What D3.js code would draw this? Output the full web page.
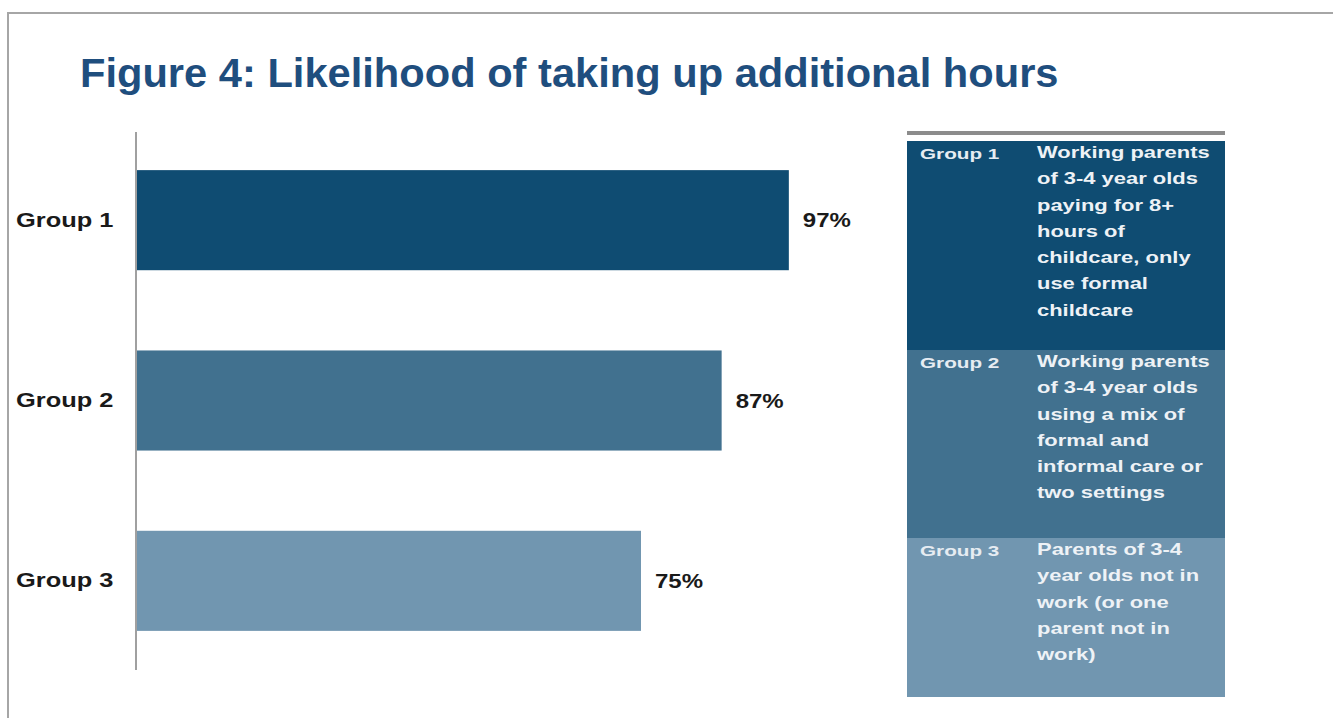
<!DOCTYPE html>
<html lang="en">
<head>
    <meta charset="UTF-8">
    <title>Figure 4</title>
    <script src="https://cdn.jsdelivr.net/npm/d3@7"></script>
    <style>
        body { margin: 0; background: #fff; }
        svg { display: block; font-family: "Liberation Sans", Arial, sans-serif; }
    </style>
</head>
<body>
<div id="chart"></div>
<script>
    var width = 1333;
    var height = 718;

    // data
    var groups = ["Group 1", "Group 2", "Group 3"];
    var values = [97, 87, 75];
    var colors = ["#0f4c72", "#41718f", "#7196b0"];
    var descriptions = [
        ["Working parents", "of 3-4 year olds", "paying for 8+", "hours of", "childcare, only", "use formal", "childcare"],
        ["Working parents", "of 3-4 year olds", "using a mix of", "formal and", "informal care or", "two settings"],
        ["Parents of 3-4", "year olds not in", "work (or one", "parent not in", "work)"]
    ];

    var svg = d3.select("#chart")
            .append("svg")
            .attr("width", width)
            .attr("height", height);

    // outer frame
    svg.append("path")
            .attr("d", "M8,720 V13 H1340")
            .attr("fill", "none")
            .attr("stroke", "#a6a6a6")
            .attr("stroke-width", 2);

    // the source picture is a bit stretched sideways, so text gets a scaleX
    svg.append("text")
            .attr("transform", "translate(80,87) scale(1.016,1)")
            .attr("font-size", 41)
            .attr("font-weight", "bold")
            .attr("fill", "#1f4e7e")
            .text("Figure 4: Likelihood of taking up additional hours");

    // scales
    var x = d3.scaleLinear()
            .domain([0, 100])
            .range([137, 809]);

    var y = d3.scaleBand()
            .domain(groups)
            .range([130, 671])
            .paddingInner(0.445)
            .paddingOuter(0.2225);

    svg.selectAll("rect.bar")
            .data(values)
            .enter()
            .append("rect")
            .attr("class", "bar")
            .attr("x", x(0))
            .attr("y", function (d, i) { return y(groups[i]); })
            .attr("width", function (d) { return x(d) - x(0); })
            .attr("height", y.bandwidth())
            .attr("fill", function (d, i) { return colors[i]; });

    // value labels
    svg.selectAll("text.val")
            .data(values)
            .enter()
            .append("text")
            .attr("class", "val")
            .attr("transform", function (d, i) {
                return "translate(" + (x(d) + 14) + "," + (y(groups[i]) + y.bandwidth() / 2 + 7) + ") scale(1.2,1)";
            })
            .attr("font-size", 20)
            .attr("font-weight", "bold")
            .attr("fill", "#1a1a1a")
            .text(function (d) { return d + "%"; });

    // category axis
    var axis = d3.axisLeft(y).tickSize(0).tickPadding(20);
    var gAxis = svg.append("g")
            .attr("transform", "translate(136,0)")
            .call(axis);
    gAxis.select(".domain")
            .attr("d", "M0,132 V670")
            .attr("stroke", "#a0a0a0")
            .attr("stroke-width", 2);
    gAxis.selectAll("text")
            .attr("x", 0)
            .attr("transform", "translate(-120,0) scale(1.27,1)")
            .attr("text-anchor", "start")
            .attr("font-size", 20)
            .attr("font-weight", "bold")
            .attr("font-family", "'Liberation Sans', Arial, sans-serif")
            .attr("fill", "#1a1a1a");

    // legend table
    var rowTops = [141, 350, 538, 697];
    var lx = 907, lw = 318;

    svg.append("rect")
            .attr("x", lx).attr("y", 131)
            .attr("width", lw).attr("height", 4)
            .attr("fill", "#8c8c8c");

    var rows = svg.selectAll("g.row")
            .data(groups)
            .enter()
            .append("g")
            .attr("class", "row");

    rows.append("rect")
            .attr("x", lx)
            .attr("y", function (d, i) { return rowTops[i]; })
            .attr("width", lw)
            .attr("height", function (d, i) { return rowTops[i + 1] - rowTops[i]; })
            .attr("fill", function (d, i) { return colors[i]; });

    rows.append("text")
            .attr("transform", function (d, i) { return "translate(920," + (rowTops[i] + 18) + ") scale(1.38,1)"; })
            .attr("font-size", 15)
            .attr("font-weight", "bold")
            .attr("fill", "#e6ecf2")
            .text(function (d) { return d; });

    rows.append("text")
            .attr("transform", function (d, i) { return "translate(1037," + (rowTops[i] + 17) + ") scale(1.33,1)"; })
            .attr("font-size", 16.5)
            .attr("font-weight", "bold")
            .attr("fill", "#eef2f6")
            .selectAll("tspan")
            .data(function (d, i) {
                return descriptions[i].map(function (t, j) { return {t: t, y: j * 26.3}; });
            })
            .enter()
            .append("tspan")
            .attr("x", 0)
            .attr("y", function (d) { return d.y; })
            .text(function (d) { return d.t; });
</script>
</body>
</html>
